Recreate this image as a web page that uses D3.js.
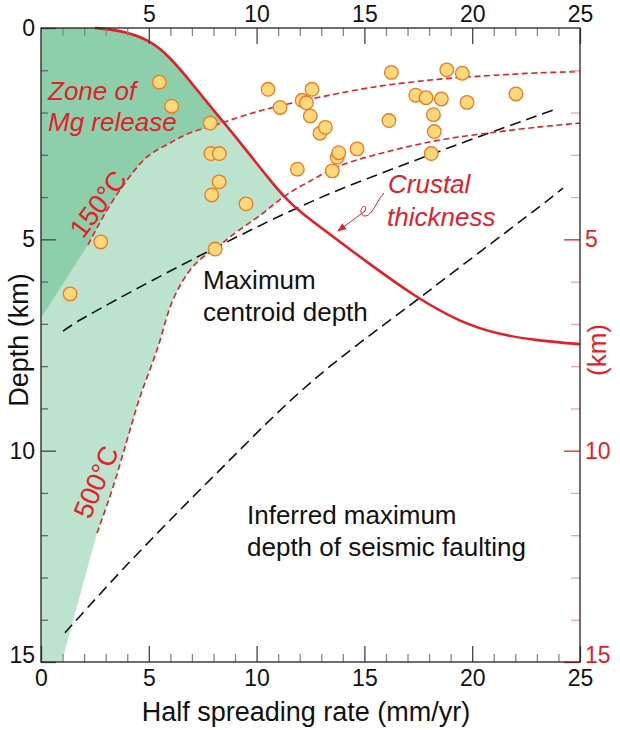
<!DOCTYPE html>
<html>
<head>
<meta charset="utf-8">
<title>Half spreading rate vs depth</title>
<script type="text/javascript" src="https://d3js.org/d3.v7.min.js"></script>
<style>
  body { margin: 0; background: #fff; }
  text { font-family: "Liberation Sans", Arial, sans-serif; }
</style>
</head>
<body>
<div class="chart"></div>
<script type="text/javascript">

    // ---- data (rate mm/yr, depth km) ----
    const crustCurve = [[2.5,0],[3.66,0.05],[5.06,0.28],[5.98,0.69],[6.91,1.25],[7.84,1.85],
        [8.77,2.41],[9.69,3.0],[10.62,3.6],[11.32,4.02],[12.01,4.35],[13.64,4.97],
        [15.12,5.54],[17.35,6.36],[19.43,6.96],[21.29,7.26],[23.14,7.4],[25,7.48]];

    const iso150 = [[2.18,5.13],[3.06,4.31],[3.99,3.6],[4.92,3.05],[5.98,2.72],[6.91,2.48],
        [7.84,2.34],[8.77,2.18],[10.3,1.94],[12.34,1.7],[15.4,1.4],[18.51,1.21],
        [21.29,1.11],[23.14,1.06],[25,1.03]];

    const iso500 = [[2.6,11.95],[3.34,10.86],[3.99,9.75],[4.59,8.73],[5.38,7.62],[6.12,6.43],
        [6.91,5.73],[7.51,5.42],[8.16,5.2],[8.77,4.94],[10.3,4.38],[11.32,3.97],
        [12.48,3.62],[13.87,3.26],[16.19,2.91],[18.51,2.65],[20.83,2.48],[23.14,2.34],[25,2.25]];

    const centroidLine = [[1.02,7.17],[1.81,6.91],[7.24,5.42],[12.62,4.09],[18.04,3.0],[23.0,2.08],[23.75,1.94]];
    const faultingLine = [[1.11,14.31],[3.99,12.7],[7.84,10.69],[12.48,8.4],[18.04,6.2],[23.52,4.07],[24.21,3.79]];

    const quakes = [[5.49,1.28],[6.06,1.85],[7.85,2.25],[7.88,2.97],[8.27,2.97],[8.26,3.64],
        [7.92,3.95],[9.51,4.16],[8.08,5.23],[2.77,5.06],[1.35,6.29],[10.53,1.45],
        [11.09,1.88],[12.11,1.71],[12.31,1.77],[12.57,1.45],[12.49,2.08],[12.94,2.49],
        [13.19,2.35],[11.89,3.34],[13.51,3.38],[13.74,3.06],[13.81,2.95],[14.66,2.86],
        [16.25,1.05],[16.14,2.19],[17.38,1.59],[17.86,1.65],[18.57,1.68],[18.82,0.99],
        [19.54,1.07],[19.76,1.76],[18.2,2.05],[18.24,2.45],[18.1,2.97],[22.03,1.56]];

    const rateMajor = [0,5,10,15,20,25];
    const rateMinor = d3.range(1,25).filter(d => d % 5 !== 0);
    const depthMajor = [0,5,10,15];
    const depthMinor = d3.range(1,15).filter(d => d % 5 !== 0);

    const red = "#e3202a";

    const svg = d3.select(".chart").append("svg")
        .attr("width", 620)
        .attr("height", 730);

    const x = d3.scaleLinear().domain([0,25]).range([41,580]);
    const y = d3.scaleLinear().domain([0,15]).range([28,662]);

    const line = d3.line()
        .x(d => x(d[0]))
        .y(d => y(d[1]))
        .curve(d3.curveCatmullRom.alpha(0.5));

    const crustLine = d3.line()
        .x(d => x(d[0]))
        .y(d => y(d[1]))
        .curve(d3.curveBasis);

    // clip: mantle side of the crustal thickness curve
    const defs = svg.append("defs");
    defs.append("clipPath").attr("id", "belowCrust")
        .append("path")
        .attr("d", crustLine(crustCurve) +
            "L" + x(25) + "," + y(15) + "L" + x(0) + "," + y(15) + "L" + x(0) + "," + y(0) + "Z");

    defs.append("marker")
        .attr("id", "arrow")
        .attr("viewBox", "0 0 10 10")
        .attr("refX", 9).attr("refY", 5)
        .attr("markerWidth", 9).attr("markerHeight", 9)
        .attr("markerUnits", "userSpaceOnUse")
        .attr("orient", "auto")
        .append("path")
        .attr("d", "M0,1 L10,5 L0,9 Z")
        .attr("fill", red);

    const zones = svg.append("g").attr("clip-path", "url(#belowCrust)");

    zones.append("path")
        .attr("d", line(iso500) +
            "L" + x(25) + "," + y(0) + "L" + x(0) + "," + y(0) +
            "L" + x(0) + "," + y(15) + "L" + x(0.96) + "," + y(15) + "Z")
        .attr("fill", "#bce3ce");

    zones.append("path")
        .attr("d", line(iso150) +
            "L" + x(25) + "," + y(0) + "L" + x(0) + "," + y(0) +
            "L" + x(0) + "," + y(6.86) + "Z")
        .attr("fill", "#8dcfaa");

    // black dashed depth lines
    [centroidLine, faultingLine].forEach(l => {
        svg.append("path")
            .attr("d", line(l))
            .attr("fill", "none")
            .attr("stroke", "#111")
            .attr("stroke-width", 1.6)
            .attr("stroke-dasharray", "11,6");
    });

    // isotherms
    [iso150, iso500].forEach(l => {
        svg.append("path")
            .attr("d", line(l))
            .attr("fill", "none")
            .attr("stroke", red)
            .attr("stroke-width", 1.6)
            .attr("stroke-dasharray", "6,3.5");
    });

    // crustal thickness
    svg.append("path")
        .attr("d", crustLine(crustCurve))
        .attr("fill", "none")
        .attr("stroke", red)
        .attr("stroke-width", 2.6);

    // earthquakes
    svg.append("g").selectAll("circle")
        .data(quakes)
        .join("circle")
        .attr("cx", d => x(d[0]))
        .attr("cy", d => y(d[1]))
        .attr("r", 6.8)
        .attr("fill", "#fdd97c")
        .attr("stroke", "#ee7a20")
        .attr("stroke-width", 1.3);

    // AXES ---------------------------**
    function styleAxis(g, color, fontColor) {
        g.select(".domain").remove();
        g.selectAll("line").attr("stroke", color).attr("stroke-width", 1.3);
        g.selectAll("text")
            .attr("fill", fontColor)
            .style("font-size", "23px")
            .style("font-family", "'Liberation Sans', Arial, sans-serif");
    }

    // bottom
    svg.append("g").attr("transform", "translate(0," + y(15) + ")")
        .call(d3.axisBottom(x).tickValues(rateMinor).tickSize(-8).tickFormat(""))
        .call(g => styleAxis(g, "#888", "#111"));
    svg.append("g").attr("transform", "translate(0," + y(15) + ")")
        .call(d3.axisBottom(x).tickValues(rateMajor).tickSize(-16).tickPadding(8))
        .call(g => styleAxis(g, "#444", "#111"));

    // top
    svg.append("g").attr("transform", "translate(0," + y(0) + ")")
        .call(d3.axisTop(x).tickValues(rateMinor).tickSize(-8).tickFormat(""))
        .call(g => styleAxis(g, "#888", "#111"));
    svg.append("g").attr("transform", "translate(0," + y(0) + ")")
        .call(d3.axisTop(x).tickValues(rateMajor.slice(1)).tickSize(-16).tickPadding(6))
        .call(g => styleAxis(g, "#444", "#111"));

    // left
    svg.append("g").attr("transform", "translate(" + x(0) + ",0)")
        .call(d3.axisLeft(y).tickValues(depthMinor).tickSize(-7).tickFormat(""))
        .call(g => styleAxis(g, "#666", "#111"));
    svg.append("g").attr("transform", "translate(" + x(0) + ",0)")
        .call(d3.axisLeft(y).tickValues(depthMajor).tickSize(-15).tickPadding(6))
        .call(g => styleAxis(g, "#444", "#111"))
        .call(g => g.selectAll("text").attr("dy", d => d === 15 ? "0em" : "0.33em"));

    // right (red)
    svg.append("g").attr("transform", "translate(" + x(25) + ",0)")
        .call(d3.axisRight(y).tickValues(depthMinor).tickSize(-9).tickFormat(""))
        .call(g => styleAxis(g, "#f3a3a6", red));
    svg.append("g").attr("transform", "translate(" + x(25) + ",0)")
        .call(d3.axisRight(y).tickValues(depthMajor.slice(1)).tickSize(-16).tickPadding(5))
        .call(g => styleAxis(g, red, red))
        .call(g => g.selectAll("text").attr("dy", d => d === 15 ? "0em" : "0.33em"));

    // frame
    svg.append("rect")
        .attr("x", x(0)).attr("y", y(0))
        .attr("width", x(25) - x(0))
        .attr("height", y(15) - y(0))
        .attr("fill", "none")
        .attr("stroke", "#222")
        .attr("stroke-width", 1.3);

    // axis titles
    svg.append("text")
        .attr("x", 306).attr("y", 721)
        .attr("text-anchor", "middle")
        .style("font-size", "27px")
        .attr("fill", "#111")
        .text("Half spreading rate (mm/yr)");

    svg.append("text")
        .attr("transform", "translate(28,340) rotate(-90)")
        .attr("text-anchor", "middle")
        .style("font-size", "27px")
        .attr("fill", "#111")
        .text("Depth (km)");

    svg.append("text")
        .attr("transform", "translate(606,350) rotate(-90)")
        .attr("text-anchor", "middle")
        .style("font-size", "26px")
        .attr("fill", red)
        .text("(km)");

    // annotations
    const notes = [
        {t: "Zone of", x: 48, y: 100, c: red, i: true},
        {t: "Mg release", x: 48, y: 131, c: red, i: true},
        {t: "Crustal", x: 388, y: 193, c: red, i: true},
        {t: "thickness", x: 387, y: 226, c: red, i: true},
        {t: "Maximum", x: 203, y: 289, c: "#111", i: false},
        {t: "centroid depth", x: 203, y: 321, c: "#111", i: false},
        {t: "Inferred maximum", x: 247, y: 524, c: "#111", i: false},
        {t: "depth of seismic faulting", x: 247, y: 556, c: "#111", i: false}
    ];
    svg.append("g").selectAll("text")
        .data(notes)
        .join("text")
        .attr("x", d => d.x).attr("y", d => d.y)
        .attr("fill", d => d.c)
        .style("font-style", d => d.i ? "italic" : "normal")
        .style("font-size", "26px")
        .text(d => d.t);

    svg.append("text")
        .attr("transform", "translate(98,204) rotate(-53)")
        .attr("text-anchor", "middle")
        .attr("dy", "0.35em")
        .attr("fill", red)
        .style("font-size", "27px")
        .text("150°C");

    svg.append("text")
        .attr("transform", "translate(96,482) rotate(-67)")
        .attr("text-anchor", "middle")
        .attr("dy", "0.35em")
        .attr("fill", red)
        .style("font-size", "27px")
        .text("500°C");

    // squiggle arrow to the crust curve
    svg.append("path")
        .attr("d", "M384,193 C379,198 376,206 372,211 C368,217 362,218 361,212 C360,206 368,204 365,211 L338,231")
        .attr("fill", "none")
        .attr("stroke", red)
        .attr("stroke-width", 1)
        .attr("marker-end", "url(#arrow)");

</script>
</body>
</html>
